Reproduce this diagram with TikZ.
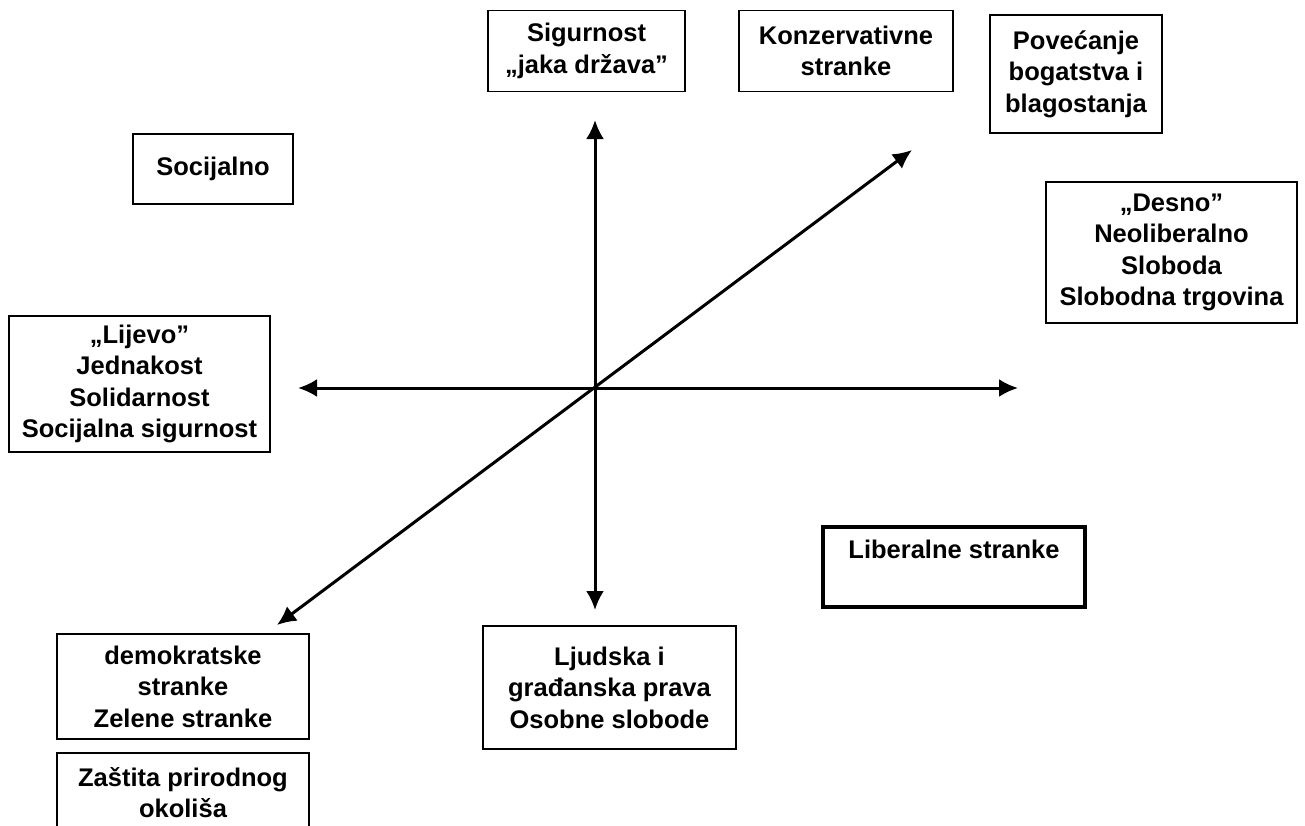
\documentclass[tikz,border=0pt]{standalone}
\usepackage{fontspec}
\setmainfont{Liberation Sans}
\usetikzlibrary{arrows.meta,positioning}

\tikzset{
  box/.style={draw, line width=1.8pt, align=center, inner sep=0pt,
    font=\bfseries\fontsize{25.5}{31.5}\selectfont},
  axis/.style={line width=3pt, <->}
}

\begin{document}
\begin{tikzpicture}[x=1pt, y=-1pt, >={Latex[length=19pt,width=18pt]}]
    \path[use as bounding box, clip] (0,0) rectangle (1305,825);
    % boxes
    \node[box, minimum width=197pt, minimum height=81pt] (sig) at (586.5,51) {Sigurnost\\„jaka država”};
    \node[box, minimum width=214pt, minimum height=81pt] (kons) at (846,51) {Konzervativne\\stranke};
    \node[box, minimum width=172pt, minimum height=118pt] (pov) at (1076,74) {Povećanje\\bogatstva i\\blagostanja};
    \node[box, minimum width=160pt, minimum height=70pt] (soc) at (213,169) {Socijalno};
    \node[box, minimum width=251pt, minimum height=141pt] (desno) at (1171.5,252.5) {„Desno”\\Neoliberalno\\Sloboda\\Slobodna trgovina};
    \node[box, minimum width=261pt, minimum height=136pt] (lijevo) at (139.5,384) {„Lijevo”\\Jednakost\\Solidarnost\\Socijalna sigurnost};
    \node[box, line width=3.5pt, minimum width=262pt, text height=32pt, text depth=48pt, anchor=north] (lib) at (954,525) {Liberalne stranke};
    \node[box, minimum width=252pt, minimum height=105pt] (demo) at (183,686.5) {demokratske\\stranke\\Zelene stranke};
    \node[box, minimum width=252pt, minimum height=80pt] (zast) [below=12pt of demo] {Zaštita prirodnog\\okoliša};
    \node[box, minimum width=253pt, minimum height=123pt] (ljud) at (609.5,687.5) {Ljudska i\\građanska prava\\Osobne slobode};
    % axes
    \coordinate (up) at (595,120);
    \coordinate (down) at (595,610);
    \coordinate (left) at (298,388);
    \coordinate (right) at (1018,388);
    \coordinate (ne) at (912,150);
    \coordinate (sw) at (277,625);
    \draw[axis] (up) -- (down);
    \draw[axis] (left) -- (right);
    \draw[axis] (sw) -- (ne);
  \end{tikzpicture}
\end{document}
